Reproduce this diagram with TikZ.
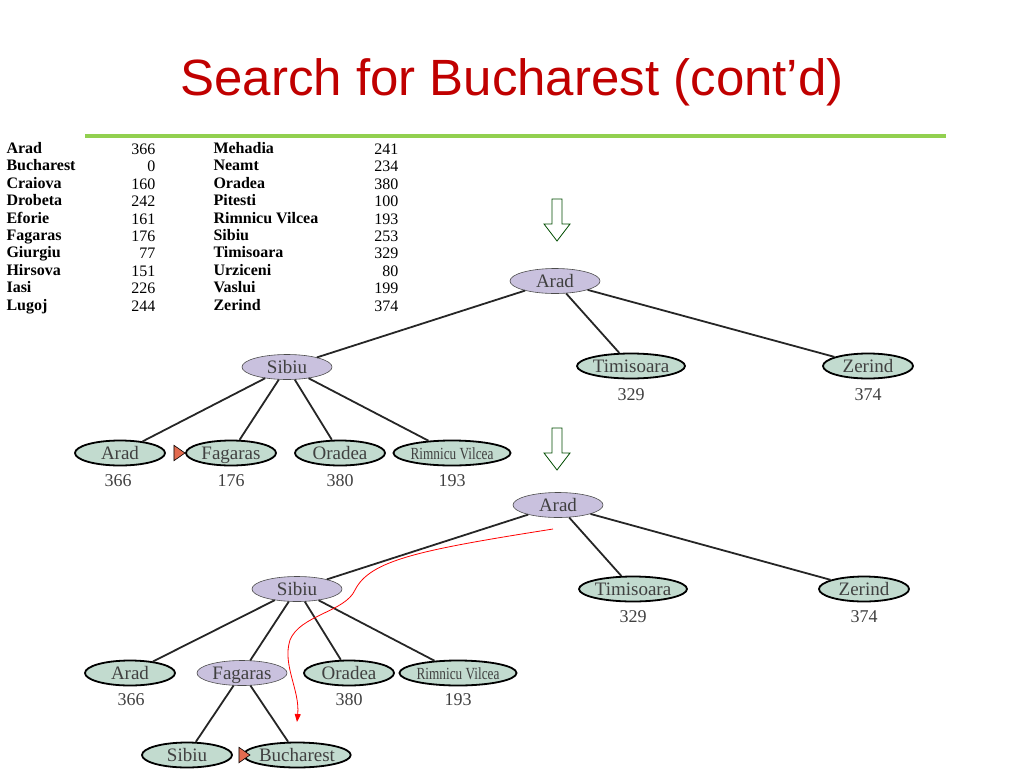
\documentclass[tikz,border=0pt]{standalone}
\usepackage{fontspec}
\setmainfont{Liberation Serif}
\newfontfamily\titlefont{Liberation Sans}
\usetikzlibrary{shapes.geometric,arrows.meta}
\definecolor{pur}{HTML}{C9C1DE}
\definecolor{grn}{HTML}{C2DBCF}
\definecolor{ttl}{HTML}{C00000}
\definecolor{gl}{HTML}{92D050}
\newcommand{\rimtxt}{\scalebox{0.78}[1]{Rimnicu Vilcea}}
\begin{document}
\begin{tikzpicture}[x=1pt,y=-1pt,
 ell/.style={ellipse,minimum width=90pt,minimum height=25pt,inner sep=0pt,text height=13pt,text depth=0pt,font=\fontsize{19}{19}\selectfont,text=black!75},
 exp/.style={ell,fill=pur,draw=black!70,line width=0.6pt},
 leaf/.style={ell,fill=grn,draw=black,line width=1.8pt},
 val/.style={font=\fontsize{18}{18}\selectfont,text=black!75},
 edge/.style={line width=1.8pt,black!85},
 mk/.style={isosceles triangle,isosceles triangle apex angle=70,fill=red!45!brown!80,draw=black,line width=0.6pt,minimum height=11pt,minimum width=13pt,inner sep=0pt},
 tn/.style={font=\bfseries\fontsize{16}{16}\selectfont,anchor=base west},
 tv/.style={font=\fontsize{16}{16}\selectfont,anchor=base east},
 rim/.style={font=\fontsize{17}{17}\selectfont},
 dn/.style={draw=black!70!green,line width=0.8pt,fill=white}]
\useasboundingbox (0,0) rectangle (1024,768);
\node[font=\titlefont\fontsize{51}{51}\selectfont,text=ttl] (title) at (512,82) {Search for Bucharest (cont’d)};
\draw[line width=4pt,gl] (85,136) coordinate(g1) -- (946,136) coordinate(g2);
% table
\foreach \n/\v [count=\i] in {Arad/366,Bucharest/0,Craiova/160,Drobeta/242,Eforie/161,Fagaras/176,Giurgiu/77,Hirsova/151,Iasi/226,Lugoj/244}{
 \node[tn] (ln\i) at (3,{136+\i*17.4}) {\n};
 \node[tv] (lv\i) at (159,{137+\i*17.4}) {\v};}
\foreach \n/\v [count=\i] in {Mehadia/241,Neamt/234,Oradea/380,Pitesti/100,Rimnicu Vilcea/193,Sibiu/253,Timisoara/329,Urziceni/80,Vaslui/199,Zerind/374}{
 \node[tn] (rn\i) at (210,{136+\i*17.4}) {\n};
 \node[tv] (rv\i) at (402,{137+\i*17.4}) {\v};}
% down arrows
\foreach \y [count=\k] in {199,428}{
 \draw[dn] (552,\y) -- (562,\y) -- (562,\y+25) -- (570,\y+25) -- (557,\y+42) -- (544,\y+25) -- (552,\y+25) -- cycle;}
% tree 1
\node[exp] (a1) at (555,281) {Arad};
\node[exp] (s1) at (287,367) {Sibiu};
\node[leaf] (t1) at (631,366) {Timisoara};
\node[leaf] (z1) at (868,366) {Zerind};
\node[leaf] (aa1) at (120,453) {Arad};
\node[leaf] (f1) at (231,453) {Fagaras};
\node[leaf] (o1) at (340,453) {Oradea};
\node[leaf,rim] (r1) at (452,453) {\rimtxt};
\node[mk] (m1) at (178,453) {};
\draw[edge] (a1)--(s1) (a1)--(t1) (a1)--(z1) (s1)--(aa1) (s1)--(f1) (s1)--(o1) (s1)--(r1);
\node[val] at (631,395) {329}; \node[val] at (868,395) {374};
\node[val] at (118,481) {366}; \node[val] at (231,481) {176};
\node[val] at (340,481) {380}; \node[val] at (452,481) {193};
% tree 2
\node[exp] (a2) at (558,505) {Arad};
\node[exp] (s2) at (297,589) {Sibiu};
\node[leaf] (t2) at (633,589) {Timisoara};
\node[leaf] (z2) at (864,589) {Zerind};
\node[leaf] (aa2) at (130,673) {Arad};
\node[exp] (f2) at (242,673) {Fagaras};
\node[leaf] (o2) at (349,673) {Oradea};
\node[leaf,rim] (r2) at (458,673) {\rimtxt};
\node[leaf] (sb) at (187,755) {Sibiu};
\node[leaf] (bu) at (297,755) {Bucharest};
\node[mk] (m2) at (243,755) {};
\draw[edge] (a2)--(s2) (a2)--(t2) (a2)--(z2) (s2)--(aa2) (s2)--(f2) (s2)--(o2) (s2)--(r2) (f2)--(sb) (f2)--(bu);
\node[val] at (633,617) {329}; \node[val] at (864,617) {374};
\node[val] at (131,700) {366}; \node[val] at (349,700) {380}; \node[val] at (458,700) {193};
% red path
\coordinate (p0) at (553,529);
\coordinate (p1) at (297,722);
\draw[red,line width=0.8pt,-{Triangle[length=8pt,width=6pt]}] (p0) .. controls (420,550) and (370,560) .. (355,590) .. controls (345,612) and (300,615) .. (290,640) .. controls (282,665) and (300,690) .. (p1);
\end{tikzpicture}
\end{document}
